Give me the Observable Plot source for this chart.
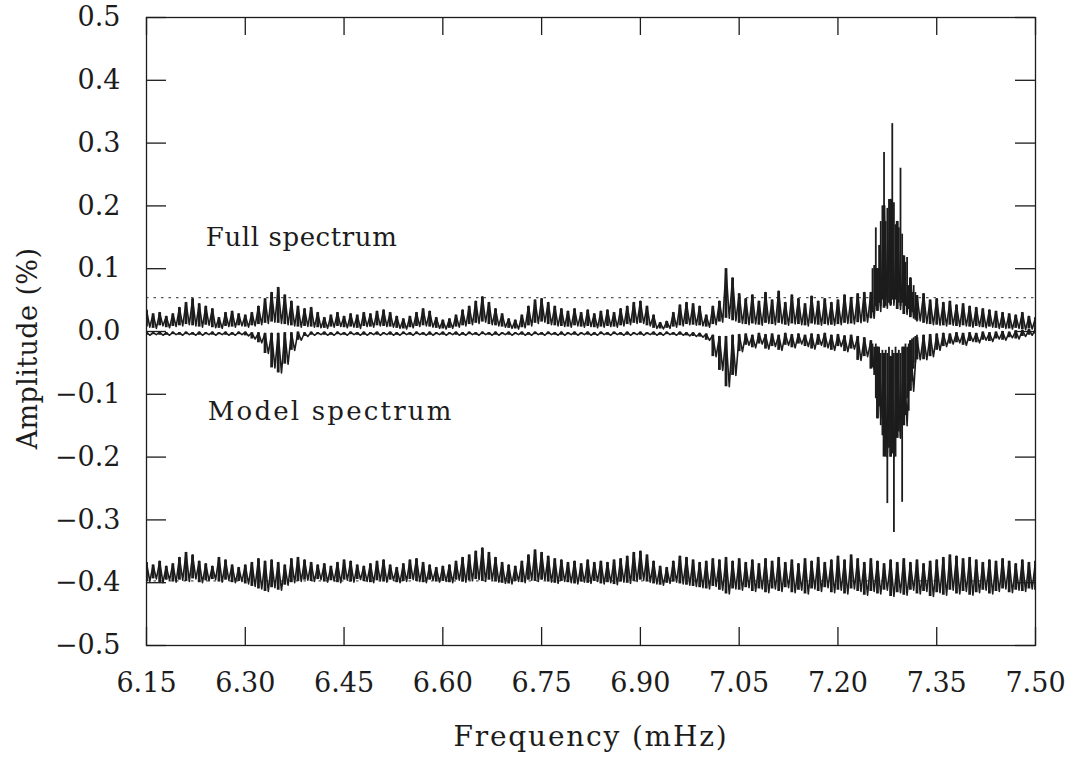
<!DOCTYPE html>
<html><head><meta charset="utf-8">
<script src="https://cdn.jsdelivr.net/npm/d3@7"></script>
<script src="https://cdn.jsdelivr.net/npm/@observablehq/plot@0.6"></script>
<style>body{margin:0;background:#fff;}</style>
</head><body><div id="chart"></div>
<script>
// Frequency grid (mHz)
const freq = [6.15,6.16,6.17,6.18,6.19,6.20,6.21,6.22,6.23,6.24,6.25,6.26,6.27,6.28,6.29,6.30,6.31,6.32,6.33,6.34,6.35,6.36,6.37,6.38,6.39,6.40,6.41,6.42,6.43,6.44,6.45,6.46,6.47,6.48,6.49,6.50,6.51,6.52,6.53,6.54,6.55,6.56,6.57,6.58,6.59,6.60,6.61,6.62,6.63,6.64,6.65,6.66,6.67,6.68,6.69,6.70,6.71,6.72,6.73,6.74,6.75,6.76,6.77,6.78,6.79,6.80,6.81,6.82,6.83,6.84,6.85,6.86,6.87,6.88,6.89,6.90,6.91,6.92,6.93,6.94,6.95,6.96,6.97,6.98,6.99,7.00,7.01,7.02,7.03,7.04,7.05,7.06,7.07,7.08,7.09,7.10,7.11,7.12,7.13,7.14,7.15,7.16,7.17,7.18,7.19,7.20,7.21,7.22,7.23,7.24,7.25,7.26,7.27,7.28,7.29,7.30,7.31,7.32,7.33,7.34,7.35,7.36,7.37,7.38,7.39,7.40,7.41,7.42,7.43,7.44,7.45,7.46,7.47,7.48,7.49,7.50];

// Full spectrum: upper / lower noise envelope (%)
const fullHi = [0.034,0.028,0.030,0.024,0.028,
0.038,0.046,0.052,0.044,0.040,
0.036,0.022,0.030,0.032,0.028,
0.026,0.030,0.040,0.052,0.062,
0.070,0.058,0.048,0.040,0.036,
0.038,0.030,0.022,0.026,0.030,
0.024,0.028,0.026,0.030,0.028,
0.032,0.034,0.030,0.024,0.020,
0.024,0.030,0.036,0.032,0.022,
0.018,0.020,0.026,0.034,0.040,
0.048,0.055,0.046,0.036,0.028,
0.020,0.018,0.026,0.040,0.050,
0.052,0.046,0.040,0.036,0.032,
0.036,0.030,0.034,0.028,0.032,
0.034,0.030,0.036,0.040,0.046,
0.048,0.040,0.026,0.014,0.016,
0.030,0.042,0.046,0.044,0.040,
0.026,0.040,0.048,0.100,0.085,
0.060,0.052,0.058,0.048,0.062,
0.050,0.064,0.046,0.058,0.052,
0.044,0.056,0.048,0.052,0.046,
0.050,0.058,0.054,0.060,0.062,
0.062,0.100,0.200,0.210,0.175,
0.120,0.085,0.057,0.060,0.050,
0.052,0.046,0.048,0.042,0.044,
0.040,0.038,0.036,0.034,0.032,
0.030,0.028,0.026,0.030,0.024,
0.022];
const fullLo = [0.007,0.005,0.009,0.006,0.008,
0.009,0.011,0.009,0.007,0.010,
0.006,0.005,0.008,0.007,0.009,
0.007,0.009,0.011,0.013,0.015,
0.013,0.011,0.009,0.007,0.008,
0.007,0.006,0.005,0.007,0.008,
0.006,0.007,0.005,0.008,0.007,
0.009,0.008,0.007,0.005,0.004,
0.006,0.008,0.009,0.007,0.005,
0.004,0.005,0.007,0.009,0.011,
0.013,0.015,0.011,0.009,0.007,
0.005,0.004,0.006,0.009,0.013,
0.015,0.011,0.009,0.008,0.007,
0.009,0.007,0.008,0.006,0.007,
0.008,0.007,0.009,0.011,0.013,
0.013,0.009,0.005,0.004,0.005,
0.007,0.009,0.011,0.010,0.009,
0.007,0.011,0.015,0.021,0.017,
0.013,0.011,0.012,0.010,0.013,
0.011,0.013,0.010,0.012,0.011,
0.009,0.012,0.010,0.011,0.010,
0.011,0.013,0.012,0.014,0.015,
0.021,0.032,0.037,0.042,0.035,
0.027,0.022,0.017,0.013,0.011,
0.010,0.009,0.010,0.008,0.009,
0.007,0.008,0.006,0.007,0.005,
0.005,0.004,0.005,0.003,0.004,
0.003];

// Model spectrum (plotted negative): upper / lower envelope (%)
const modelHi = [-0.001,-0.002,-0.001,-0.002,-0.001,
-0.002,-0.001,-0.002,-0.001,-0.002,
-0.001,-0.002,-0.001,-0.002,-0.001,
-0.001,-0.002,-0.002,-0.003,-0.003,
-0.003,-0.002,-0.002,-0.001,-0.002,
-0.001,-0.002,-0.001,-0.002,-0.001,
-0.002,-0.001,-0.002,-0.001,-0.002,
-0.001,-0.002,-0.001,-0.002,-0.001,
-0.002,-0.001,-0.002,-0.001,-0.002,
-0.001,-0.002,-0.001,-0.002,-0.001,
-0.002,-0.001,-0.002,-0.001,-0.002,
-0.001,-0.002,-0.001,-0.002,-0.001,
-0.002,-0.001,-0.002,-0.001,-0.002,
-0.001,-0.002,-0.001,-0.002,-0.001,
-0.002,-0.001,-0.002,-0.001,-0.002,
-0.001,-0.002,-0.001,-0.002,-0.001,
-0.002,-0.001,-0.002,-0.002,-0.003,
-0.004,-0.006,-0.008,-0.008,-0.006,
-0.005,-0.004,-0.006,-0.003,-0.005,
-0.004,-0.006,-0.003,-0.005,-0.004,
-0.006,-0.004,-0.005,-0.003,-0.006,
-0.005,-0.007,-0.006,-0.008,-0.010,
-0.015,-0.025,-0.035,-0.040,-0.035,
-0.025,-0.015,-0.010,-0.006,-0.005,
-0.004,-0.003,-0.004,-0.002,-0.003,
-0.002,-0.003,-0.001,-0.002,-0.001,
0.000,-0.001,0.001,0.002,0.003,
0.004];
const modelLo = [-0.006,-0.005,-0.006,-0.006,-0.005,
-0.006,-0.005,-0.006,-0.006,-0.005,
-0.006,-0.005,-0.006,-0.006,-0.005,
-0.007,-0.012,-0.018,-0.035,-0.058,
-0.066,-0.052,-0.030,-0.014,-0.008,
-0.006,-0.005,-0.006,-0.006,-0.005,
-0.006,-0.005,-0.006,-0.006,-0.005,
-0.006,-0.005,-0.006,-0.006,-0.005,
-0.006,-0.005,-0.006,-0.006,-0.005,
-0.006,-0.005,-0.006,-0.006,-0.005,
-0.006,-0.005,-0.006,-0.006,-0.005,
-0.006,-0.005,-0.006,-0.006,-0.005,
-0.006,-0.005,-0.006,-0.006,-0.005,
-0.006,-0.005,-0.006,-0.006,-0.005,
-0.006,-0.005,-0.006,-0.006,-0.005,
-0.006,-0.005,-0.006,-0.006,-0.005,
-0.006,-0.006,-0.007,-0.008,-0.009,
-0.014,-0.040,-0.062,-0.088,-0.070,
-0.032,-0.022,-0.026,-0.020,-0.028,
-0.024,-0.030,-0.022,-0.026,-0.020,
-0.024,-0.028,-0.022,-0.026,-0.030,
-0.024,-0.032,-0.028,-0.046,-0.040,
-0.060,-0.139,-0.200,-0.200,-0.170,
-0.150,-0.095,-0.045,-0.045,-0.040,
-0.030,-0.024,-0.020,-0.018,-0.022,
-0.016,-0.018,-0.014,-0.016,-0.012,
-0.014,-0.010,-0.012,-0.008,-0.006,
-0.004];

// Residual spectrum (offset): upper / lower envelope (%)
const residHi = [-0.368,-0.372,-0.366,-0.374,-0.370,
-0.360,-0.352,-0.356,-0.366,-0.370,
-0.374,-0.360,-0.364,-0.372,-0.376,
-0.372,-0.368,-0.362,-0.366,-0.364,
-0.368,-0.372,-0.362,-0.360,-0.364,
-0.368,-0.372,-0.370,-0.374,-0.368,
-0.364,-0.366,-0.372,-0.374,-0.370,
-0.366,-0.364,-0.372,-0.376,-0.370,
-0.364,-0.362,-0.368,-0.372,-0.376,
-0.374,-0.372,-0.366,-0.360,-0.356,
-0.350,-0.345,-0.352,-0.360,-0.368,
-0.372,-0.374,-0.366,-0.356,-0.348,
-0.352,-0.358,-0.362,-0.364,-0.368,
-0.366,-0.370,-0.364,-0.368,-0.366,
-0.368,-0.364,-0.362,-0.358,-0.352,
-0.350,-0.356,-0.366,-0.374,-0.376,
-0.366,-0.358,-0.360,-0.364,-0.368,
-0.366,-0.362,-0.364,-0.360,-0.366,
-0.362,-0.368,-0.364,-0.370,-0.362,
-0.366,-0.360,-0.368,-0.364,-0.370,
-0.362,-0.366,-0.360,-0.368,-0.364,
-0.358,-0.364,-0.356,-0.362,-0.368,
-0.362,-0.366,-0.370,-0.364,-0.368,
-0.362,-0.368,-0.364,-0.370,-0.366,
-0.364,-0.360,-0.356,-0.358,-0.362,
-0.360,-0.364,-0.368,-0.364,-0.366,
-0.362,-0.366,-0.370,-0.364,-0.368,
-0.366];
const residLo = [-0.398,-0.394,-0.400,-0.396,-0.399,
-0.396,-0.398,-0.394,-0.400,-0.397,
-0.395,-0.399,-0.396,-0.400,-0.398,
-0.402,-0.406,-0.410,-0.414,-0.408,
-0.412,-0.404,-0.400,-0.398,-0.396,
-0.398,-0.395,-0.399,-0.397,-0.400,
-0.396,-0.399,-0.395,-0.398,-0.400,
-0.397,-0.399,-0.396,-0.400,-0.398,
-0.395,-0.398,-0.400,-0.396,-0.399,
-0.398,-0.400,-0.396,-0.399,-0.397,
-0.395,-0.398,-0.396,-0.399,-0.401,
-0.402,-0.398,-0.400,-0.396,-0.398,
-0.396,-0.399,-0.401,-0.398,-0.400,
-0.402,-0.399,-0.401,-0.398,-0.402,
-0.400,-0.403,-0.399,-0.401,-0.398,
-0.396,-0.399,-0.402,-0.404,-0.401,
-0.399,-0.402,-0.404,-0.406,-0.408,
-0.410,-0.406,-0.412,-0.418,-0.410,
-0.412,-0.408,-0.414,-0.410,-0.416,
-0.410,-0.414,-0.408,-0.416,-0.412,
-0.418,-0.410,-0.414,-0.408,-0.416,
-0.412,-0.418,-0.410,-0.414,-0.420,
-0.414,-0.418,-0.412,-0.422,-0.416,
-0.420,-0.412,-0.418,-0.414,-0.422,
-0.416,-0.420,-0.412,-0.418,-0.414,
-0.420,-0.416,-0.412,-0.418,-0.414,
-0.410,-0.416,-0.412,-0.414,-0.410,
-0.412];

// Strong mode near 7.28 mHz, finer sampling
const peakF = [7.2500,7.2525,7.2550,7.2575,7.2600,7.2625,7.2650,7.2675,7.2700,7.2725,7.2750,7.2775,7.2800,7.2825,7.2850,7.2875,7.2900,7.2925,7.2950,7.2975,7.3000,7.3025,7.3050,7.3075,7.3100,7.3125,7.3150,7.3175,7.3200];
const fullPeakHi = [0.062,0.100,0.105,0.165,0.100,0.137,0.175,0.200,0.285,0.175,0.196,0.210,0.208,0.331,0.205,0.170,0.175,0.165,0.260,0.155,0.120,0.110,0.118,0.073,0.085,0.062,0.073,0.062,0.057];
const fullPeakLo = [0.020,0.030,0.035,0.040,0.035,0.045,0.040,0.050,0.045,0.040,0.050,0.045,0.040,0.050,0.045,0.050,0.040,0.045,0.040,0.045,0.035,0.040,0.030,0.035,0.025,0.030,0.020,0.018,0.015];
const modelPeakHi = [-0.015,-0.020,-0.025,-0.020,-0.030,-0.025,-0.035,-0.030,-0.040,-0.030,-0.035,-0.025,-0.040,-0.030,-0.035,-0.025,-0.040,-0.030,-0.035,-0.025,-0.030,-0.020,-0.025,-0.020,-0.015,-0.012,-0.010,-0.008,-0.006];
const modelPeakLo = [-0.043,-0.058,-0.070,-0.107,-0.139,-0.120,-0.150,-0.166,-0.170,-0.200,-0.274,-0.186,-0.200,-0.195,-0.320,-0.200,-0.170,-0.160,-0.170,-0.272,-0.150,-0.134,-0.107,-0.127,-0.095,-0.080,-0.060,-0.050,-0.045];

// Significance levels (dotted)
const fullThreshold = 0.054;
const residThreshold = -0.397;

// Ticks and labels
const xTicks = [6.15,6.30,6.45,6.60,6.75,6.90,7.05,7.20,7.35,7.50];
const yTicks = [-0.5,-0.4,-0.3,-0.2,-0.1,0.0,0.1,0.2,0.3,0.4,0.5];
const seriesLabels = [{f: 6.24, v: 0.150, text: "Full spectrum"}, {f: 6.243, v: -0.128, text: "Model spectrum"}];
const xTitle = "Frequency (mHz)";
const yTitle = "Amplitude (%)";

const W = 1076, H = 757, mL = 146, mR = 41, mT = 17, mB = 112;
const plotW = W - mL - mR, plotH = H - mT - mB;
const ink = "#1c1c1c";

function zigzag(hi, lo) {
  const pts = [];
  freq.forEach((f, i) => { pts.push({f, v: hi[i]}); pts.push({f: f + 0.005, v: lo[i]}); });
  return pts;
}
function bars(hi, lo) {
  return freq.map((f, i) => ({f, hi: hi[i], lo: lo[i]}));
}
const seriesMarks = (hi, lo) => [
  Plot.ruleX(bars(hi, lo), {x: "f", y1: "lo", y2: "hi", stroke: ink, strokeWidth: 2.8, clip: true}),
  Plot.line(zigzag(hi, lo), {x: "f", y: "v", stroke: ink, strokeWidth: 1.6, clip: true})
];

const chart = Plot.plot({
  width: W, height: H,
  marginLeft: mL, marginRight: mR, marginTop: mT, marginBottom: mB,
  style: {fontFamily: "'DejaVu Serif', serif", fontSize: "27px", color: ink, background: "#fff", overflow: "visible"},
  x: {domain: [6.15, 7.50]},
  y: {domain: [-0.5, 0.5]},
  marks: [
    Plot.ruleY([fullThreshold], {stroke: "#555", strokeWidth: 1.2, strokeDasharray: "2.5,5"}),
    Plot.ruleY([residThreshold], {stroke: "#555", strokeWidth: 1.2, strokeDasharray: "2.5,5"}),
    ...seriesMarks(fullHi, fullLo),
    ...seriesMarks(modelHi, modelLo),
    ...seriesMarks(residHi, residLo),
    Plot.ruleX(peakF, {x: d => d, y1: (d, i) => fullPeakLo[i], y2: (d, i) => fullPeakHi[i], stroke: ink, strokeWidth: 1.8}),
    Plot.ruleX(peakF, {x: d => d, y1: (d, i) => modelPeakLo[i], y2: (d, i) => modelPeakHi[i], stroke: ink, strokeWidth: 1.8}),
    Plot.text(seriesLabels, {x: "f", y: "v", text: "text", textAnchor: "start", fontSize: 26, fill: ink}),
    Plot.frame({stroke: ink, strokeWidth: 1.3}),
    Plot.tickX(xTicks, {x: d => d, insetTop: plotH - 18, stroke: ink, strokeWidth: 1.3}),
    Plot.tickX(xTicks, {x: d => d, insetBottom: plotH - 18, stroke: ink, strokeWidth: 1.3}),
    Plot.tickY(yTicks, {y: d => d, insetRight: plotW - 20, stroke: ink, strokeWidth: 1.3}),
    Plot.tickY(yTicks, {y: d => d, insetLeft: plotW - 20, stroke: ink, strokeWidth: 1.3}),
    Plot.axisX(xTicks, {tickSize: 0, tickPadding: 27, tickFormat: d3.format(".2f"), label: null, fontSize: 27}),
    Plot.axisY(yTicks, {tickSize: 0, tickPadding: 26, tickFormat: d3.format(".1f"), label: null, fontSize: 27}),
    Plot.text([xTitle], {frameAnchor: "bottom", textAnchor: "middle", dy: 100, fontSize: 28, fill: ink}),
    Plot.text([yTitle], {frameAnchor: "left", textAnchor: "middle", rotate: -90, dx: -118, dy: 17, fontSize: 27, fill: ink})
  ]
});
// letter spacing like the original typesetting
d3.select(chart).selectAll("text").each(function() {
  const t = this.textContent;
  if (t === xTitle) this.setAttribute("letter-spacing", "1.8");
  else if (t === yTitle) this.setAttribute("letter-spacing", "0.4");
  else if (t === "Full spectrum") this.setAttribute("letter-spacing", "0.6");
  else if (t === "Model spectrum") this.setAttribute("letter-spacing", "2.2");
});
document.getElementById("chart").appendChild(chart);
</script>
</body></html>
